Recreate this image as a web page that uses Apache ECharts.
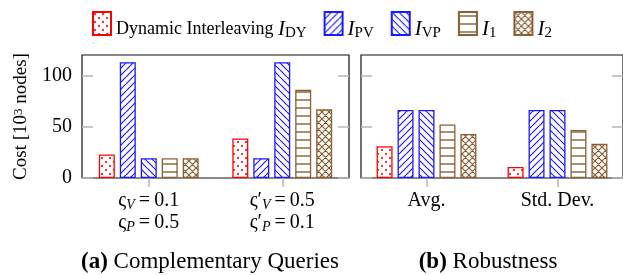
<!DOCTYPE html>
<html><head><meta charset="utf-8">
<script src="https://cdn.jsdelivr.net/npm/echarts@6/dist/echarts.min.js"></script>
<style>html,body{margin:0;padding:0;background:#fff}#c{width:623px;height:275px}</style>
</head><body><div id="c"></div>
<script>
// ---- data ----
const seriesNames = ['Dynamic Interleaving I_DY', 'I_PV', 'I_VP', 'I_1', 'I_2'];
const catsA = ['ς_V=0.1\nς_P=0.5', 'ς′_V=0.5\nς′_P=0.1'];
const catsB = ['Avg.', 'Std. Dev.'];
const yTicks = [0, 50, 100];
const aIDY = [23, 38.6];
const aIPV = [113, 19.3];
const aIVP = [19.3, 113];
const aI1  = [19.3, 86];
const aI2  = [19.3, 67];
const bIDY = [31, 10.8];
const bIPV = [66.4, 66.4];
const bIVP = [66.4, 66.4];
const bI1  = [52.3, 46.8];
const bI2  = [43, 33.3];
const captions = ['{b|(a)} Complementary Queries', '{b|(b)} Robustness'];

// ---- patterns ----
const RED = '#ff0000', BLUE = '#1a1aff', BROWN = '#8b5e34';
function tile(size, color, draw) {
  const c = document.createElement('canvas');
  c.width = size; c.height = size;
  const g = c.getContext('2d');
  g.fillStyle = '#fff'; g.fillRect(0, 0, size, size);
  g.strokeStyle = color; g.fillStyle = color; g.lineWidth = 1.2;
  draw(g, size);
  return { image: c, repeat: 'repeat' };
}
const pats = [
  tile(8, RED, (g, s) => { [[2, 2], [6, 6]].forEach(p => { g.beginPath(); g.arc(p[0], p[1], 1.1, 0, Math.PI * 2); g.fill(); }); }),
  tile(7, BLUE, (g, s) => { g.beginPath(); for (let i = -1; i <= 1; i++) { g.moveTo(i * s, s); g.lineTo(i * s + s, 0); } g.stroke(); }),
  tile(7, BLUE, (g, s) => { g.beginPath(); for (let i = -1; i <= 1; i++) { g.moveTo(i * s, 0); g.lineTo(i * s + s, s); } g.stroke(); }),
  tile(8, BROWN, (g, s) => { g.lineWidth = 1.4; g.beginPath(); g.moveTo(0, 4); g.lineTo(s, 4); g.stroke(); }),
  tile(7, BROWN, (g, s) => { g.beginPath(); for (let i = -1; i <= 1; i++) { g.moveTo(i * s, s); g.lineTo(i * s + s, 0); g.moveTo(i * s, 0); g.lineTo(i * s + s, s); } g.stroke(); })
];
const strokes = [RED, BLUE, BLUE, BROWN, BROWN];

const FONT = '"Liberation Serif", "Times New Roman", serif';
const GRAY = '#b8b8b8';

function subFmt(str) {
  return str.split('\n').map(line => {
    const m = line.match(/^(.*)_(\w+)=(.*)$/);
    if (!m) return '{t|' + line + '}';
    return '{t|' + m[1] + '}{s|' + m[2] + '}{t|\u2009=\u2009' + m[3] + '}';
  }).join('\n');
}
function legendFmt(name) {
  const m = name.match(/^(.*)I_(\w+)$/);
  return (m[1] ? '{t|' + m[1] + '}' : '') + '{i|I}{s|' + m[2] + '}';
}

function mkSeries(name, data, xi, yi, k) {
  return {
    type: 'bar', name: name, data: data, xAxisIndex: xi, yAxisIndex: yi,
    barWidth: 16, barGap: '31%',
    itemStyle: { color: pats[k], borderColor: strokes[k], borderWidth: 1.3 },
    emphasis: { disabled: true }
  };
}
const A = [aIDY, aIPV, aIVP, aI1, aI2];
const B = [bIDY, bIPV, bIVP, bI1, bI2];
const series = [];
A.forEach((d, k) => series.push(mkSeries(seriesNames[k], d, 0, 0, k)));
B.forEach((d, k) => series.push(mkSeries(seriesNames[k], d, 2, 2, k)));

const tickStyle = { color: GRAY, width: 1.5 };
function xAx(grid, data, pos, showLabel) {
  return {
    gridIndex: grid, type: 'category', data: data, position: pos,
    axisLine: { show: false },
    axisTick: { show: true, alignWithLabel: true, inside: false, length: 9, lineStyle: tickStyle },
    axisLabel: {
      show: showLabel, margin: 12, interval: 0, color: '#000', lineHeight: 22,
      formatter: v => subFmt(v),
      rich: {
        t: { fontFamily: FONT, fontSize: 20, color: '#000', lineHeight: 22 },
        s: { fontFamily: FONT, fontSize: 14, fontStyle: 'italic', color: '#000', verticalAlign: 'bottom', lineHeight: 14 }
      }
    }
  };
}
function yAx(grid, pos, showLabel) {
  const o = {
    gridIndex: grid, type: 'value', min: 0, max: 120, interval: 50, position: pos,
    axisLine: { show: false }, splitLine: { show: false },
    axisTick: { show: true, inside: true, length: 11, lineStyle: tickStyle, customValues: yTicks },
    axisLabel: { show: showLabel, customValues: yTicks, fontFamily: FONT, fontSize: 20, color: '#000', margin: 10 }
  };
  if (showLabel) {
    o.name = 'Cost [10{sup|3} nodes]';
    o.nameLocation = 'middle';
    o.nameRotate = 90;
    o.nameGap = 51;
    o.nameTextStyle = {
      fontFamily: FONT, fontSize: 19, color: '#000',
      rich: { sup: { fontFamily: FONT, fontSize: 13, color: '#000', verticalAlign: 'top', lineHeight: 12 } }
    };
  }
  return o;
}

const chart = echarts.init(document.getElementById('c'), null, { renderer: 'canvas' });
chart.setOption({
  animation: false,
  backgroundColor: '#fff',
  legend: {
    left: 92, top: 11, padding: 0, itemWidth: 18, itemHeight: 23, itemGap: 17, icon: 'rect',
    data: seriesNames,
    formatter: legendFmt,
    textStyle: {
      fontFamily: FONT, fontSize: 18, color: '#000', padding: [11, 0, 0, 0],
      rich: {
        t: { fontFamily: FONT, fontSize: 18, color: '#000', lineHeight: 24 },
        i: { fontFamily: FONT, fontSize: 21, fontStyle: 'italic', color: '#000', lineHeight: 24 },
        s: { fontFamily: FONT, fontSize: 15, color: '#000', verticalAlign: 'bottom', lineHeight: 14 }
      }
    },
    selectedMode: false
  },
  grid: [
    { left: 82, top: 55, width: 267, height: 123, show: true, borderColor: '#111', borderWidth: 1.2, backgroundColor: 'transparent' },
    { left: 361, top: 55, width: 267, height: 123, show: true, borderColor: '#111', borderWidth: 1.2, backgroundColor: 'transparent' }
  ],
  xAxis: [xAx(0, catsA, 'bottom', true), xAx(0, catsA, 'top', false), xAx(1, catsB, 'bottom', true), xAx(1, catsB, 'top', false)],
  yAxis: [yAx(0, 'left', true), yAx(0, 'right', false), yAx(1, 'left', false), yAx(1, 'right', false)],
  series: series,
  graphic: [
    { type: 'text', x: 210, y: 262, style: { text: captions[0], align: 'center', verticalAlign: 'middle', fill: '#000', font: '23px ' + FONT,
      rich: { b: { fontFamily: FONT, fontSize: 23, fontWeight: 'bold', fill: '#000' } } } },
    { type: 'text', x: 488, y: 262, style: { text: captions[1], align: 'center', verticalAlign: 'middle', fill: '#000', font: '23px ' + FONT,
      rich: { b: { fontFamily: FONT, fontSize: 23, fontWeight: 'bold', fill: '#000' } } } }
  ]
});
</script></body></html>
